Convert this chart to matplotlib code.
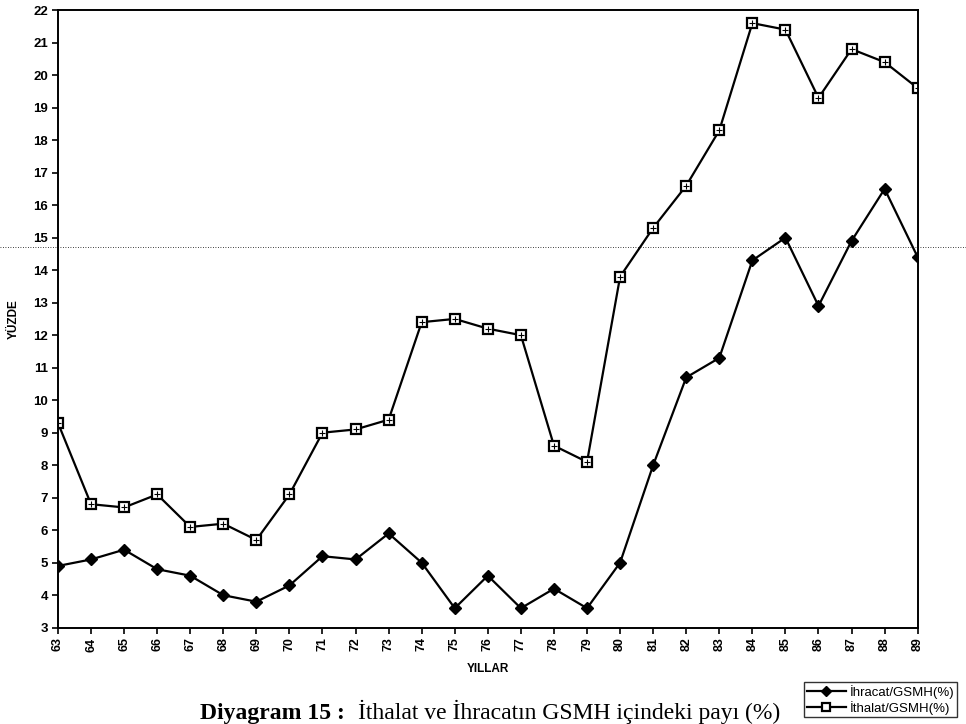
import matplotlib.pyplot as plt
from matplotlib.lines import Line2D

# ── Data ──
years = ['63', '64', '65', '66', '67', '68', '69', '70', '71', '72', '73', '74', '75',
         '76', '77', '78', '79', '80', '81', '82', '83', '84', '85', '86', '87', '88', '89']
ihracat = [4.9, 5.1, 5.4, 4.8, 4.6, 4.0, 3.8, 4.3, 5.2, 5.1, 5.9, 5.0, 3.6,
           4.6, 3.6, 4.2, 3.6, 5.0, 8.0, 10.7, 11.3, 14.3, 15.0, 12.9, 14.9, 16.5, 14.4]
ithalat = [9.3, 6.8, 6.7, 7.1, 6.1, 6.2, 5.7, 7.1, 9.0, 9.1, 9.4, 12.4, 12.5,
           12.2, 12.0, 8.6, 8.1, 13.8, 15.3, 16.6, 18.3, 21.6, 21.4, 19.3, 20.8, 20.4, 19.6]
y_ticks = list(range(3, 23))

sans = ['Liberation Sans', 'DejaVu Sans']
serif = ['Liberation Serif', 'DejaVu Serif']

fig = plt.figure(figsize=(9.66, 7.24), dpi=100)
ax = fig.add_axes([0.060, 0.133, 0.890, 0.853])

x = list(range(len(years)))
ax.plot(x, ihracat, color='black', lw=1.6, marker='D', ms=6,
        mfc='black', mec='black', label='İhracat/GSMH(%)')
ax.plot(x, ithalat, color='black', lw=1.6, marker='s', ms=7,
        mfc='white', mec='black', mew=1.6, label='İthalat/GSMH(%)')
ax.plot(x, ithalat, ls='none', marker='+', ms=4, color='black', mew=0.8)

ax.set_xlim(0, len(years) - 1)
ax.set_ylim(3, 22)
ax.set_xticks(x)
ax.set_xticklabels(years, rotation=90, fontsize=9, fontweight='bold', family=sans)
ax.set_yticks(y_ticks)
ax.set_yticklabels([str(v) for v in y_ticks], fontsize=9.5, fontweight='bold', family=sans)
ax.tick_params(direction='out', length=4, width=1.2, pad=3)
for s in ax.spines.values():
    s.set_linewidth(1.4)

ax.set_xlabel('YILLAR', fontsize=8.5, fontweight='bold', family=sans, labelpad=8)
ax.set_ylabel('YÜZDE', fontsize=8.5, fontweight='bold', family=sans, labelpad=10)

# Scan artifact: dotted horizontal line across the whole page
fig.add_artist(Line2D([0, 1], [1 - 247 / 724, 1 - 247 / 724], transform=fig.transFigure,
                      color='black', lw=0.6, ls=(0, (1, 2))))

# Caption
fig.text(200 / 966, 1 - 719 / 724, 'Diyagram 15 :', ha='left', va='baseline',
         fontsize=17, fontweight='bold', family=serif)
fig.text(358 / 966, 1 - 719 / 724, 'İthalat ve İhracatın GSMH içindeki payı (%)',
         ha='left', va='baseline', fontsize=17, family=serif)

leg = fig.legend(loc='lower right', bbox_to_anchor=(0.998, 0.0),
                 prop={'family': sans, 'size': 9.5}, frameon=True, fancybox=False,
                 edgecolor='black', handlelength=3.0, borderpad=0.2,
                 labelspacing=0.15, handletextpad=0.3, markerscale=0.8)
leg.get_frame().set_linewidth(1.0)

fig.savefig('out.png', dpi=100)
